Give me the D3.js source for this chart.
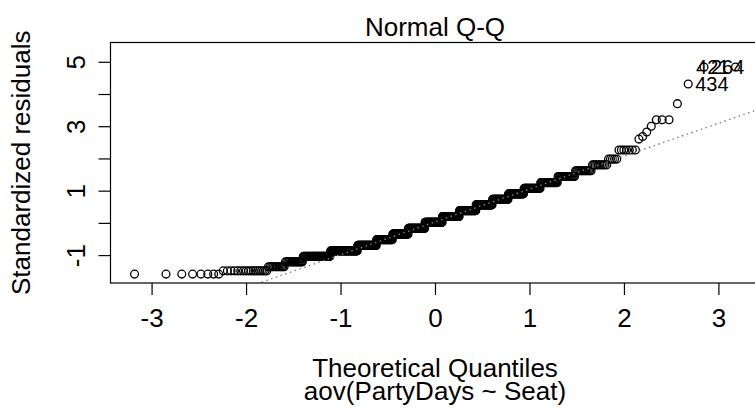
<!DOCTYPE html>
<html>
<head>
<meta charset="utf-8">
<script src="https://cdn.jsdelivr.net/npm/d3@7"></script>
<style>
  body { margin: 0; background: #fff; }
  svg { display: block; font-family: "Liberation Sans", Arial, sans-serif; }
</style>
</head>
<body>
<script>
//=DATA=//
// sorted standardized residuals, read off the plot as plateau levels + how many points sit on each
const resLevels = [-1.59, -1.49, -1.36, -1.21, -1.04, -0.87, -0.70, -0.52, -0.35, -0.17,
  0.02, 0.20, 0.38, 0.56, 0.73, 0.90, 1.07, 1.25, 1.44, 1.62,
  1.80, 1.98, 2.26, 2.60, 2.68, 2.82, 3.00, 3.20, 3.70, 4.31, 4.84];
const resCounts = [8, 18, 12, 17, 36, 49, 42, 40, 42, 47,
  50, 48, 45, 41, 36, 31, 28, 24, 19, 14,
  10, 5, 7, 1, 1, 1, 1, 3, 1, 1, 2];

// labelled points (rank from the top) and their ids
const idRanks = [1, 2, 3];
const idLabels = ["421", "264", "434"];

// reference line (through the quartiles)
const lineIntercept = 0.03;
const lineSlope = 1.02;

const xTicks = [-3, -2, -1, 0, 1, 2, 3];
const yTicks = [-1, 0, 1, 2, 3, 4, 5];
const yTickLabels = ["-1", "", "1", "", "3", "", "5"];

const title = "Normal Q-Q";
const xLabel = "Theoretical Quantiles";
const subLabel = "aov(PartyDays ~ Seat)";
const yLabel = "Standardized residuals";

//=SVG AREA=//
const width = 755;
const height = 411;
const fs = 26;

const svg = d3.select("body")
  .append("svg")
  .attr("width", width)
  .attr("height", height);

// inverse normal cdf (Acklam)
function qnorm(p) {
  const a = [-39.69683028665376, 220.9460984245205, -275.9285104469687, 138.3577518672690, -30.66479806614716, 2.506628277459239];
  const b = [-54.47609879822406, 161.5858589980324, -155.6989798598866, 66.80131188771972, -13.28068155288572];
  const c = [-0.007784894002430293, -0.3223964580411365, -2.400758277161838, -2.549732539343734, 4.374664141464968, 2.938163982698783];
  const d = [0.007784695709041462, 0.3224671290700398, 2.445134137142996, 3.754408661907416];
  const pl = 0.02425;
  let q, r;
  if (p < pl) {
    q = Math.sqrt(-2 * Math.log(p));
    return (((((c[0]*q+c[1])*q+c[2])*q+c[3])*q+c[4])*q+c[5]) / ((((d[0]*q+d[1])*q+d[2])*q+d[3])*q+1);
  } else if (p <= 1 - pl) {
    q = p - 0.5; r = q * q;
    return (((((a[0]*r+a[1])*r+a[2])*r+a[3])*r+a[4])*r+a[5])*q / (((((b[0]*r+b[1])*r+b[2])*r+b[3])*r+b[4])*r+1);
  }
  q = Math.sqrt(-2 * Math.log(1 - p));
  return -(((((c[0]*q+c[1])*q+c[2])*q+c[3])*q+c[4])*q+c[5]) / ((((d[0]*q+d[1])*q+d[2])*q+d[3])*q+1);
}

// expand levels into the sorted sample, pair with theoretical quantiles
const sample = [];
resLevels.forEach((v, i) => { for (let k = 0; k < resCounts[i]; k++) sample.push(v); });
const n = sample.length;
const points = sample.map((v, i) => ({ q: qnorm((i + 1 - 0.5) / n), r: v, rank: n - i }));

//==SCALES== (R style 4% padding, extra room on top for labels)
const xr = d3.extent(points, d => d.q);
let yr = d3.extent(points, d => d.r);
yr[1] = yr[1] + (yr[1] - yr[0]) * 0.075;
const xPad = (xr[1] - xr[0]) * 0.04;
const yPad = (yr[1] - yr[0]) * 0.04;

const x = d3.scaleLinear()
  .domain([xr[0] - xPad, xr[1] + xPad])
  .range([110.5, 759.5]);

const y = d3.scaleLinear()
  .domain([yr[0] - yPad, yr[1] + yPad])
  .range([283, 42.5]);

const [x0, x1] = x.range();
const [y0, y1] = y.range();

svg.append("clipPath")
  .attr("id", "plotclip")
  .append("rect")
  .attr("x", x0).attr("y", y1)
  .attr("width", x1 - x0).attr("height", y0 - y1);

//==POINTS==
svg.append("g")
  .selectAll("circle")
  .data(points)
  .enter()
  .append("circle")
  .attr("cx", d => x(d.q))
  .attr("cy", d => y(d.r))
  .attr("r", 3.9)
  .attr("fill", "none")
  .attr("stroke", "black")
  .attr("stroke-width", 1.3);

//==QQ LINE==
const xd = x.domain();
svg.append("line")
  .attr("clip-path", "url(#plotclip)")
  .attr("x1", x(xd[0]))
  .attr("y1", y(lineIntercept + lineSlope * xd[0]))
  .attr("x2", x(xd[1]))
  .attr("y2", y(lineIntercept + lineSlope * xd[1]))
  .attr("stroke", "#7f7f7f")
  .attr("stroke-width", 1.4)
  .attr("stroke-dasharray", "1.5,3.5");

//==ID LABELS== (largest goes to the left of its point, others to the right)
idRanks.forEach((rk, i) => {
  const p = points.find(d => d.rank === rk);
  const left = rk === 1;
  svg.append("text")
    .attr("x", x(p.q) + (left ? -6 : 7))
    .attr("y", y(p.r))
    .attr("dy", "0.36em")
    .attr("text-anchor", left ? "end" : "start")
    .attr("font-size", 20)
    .text(idLabels[i]);
});

//==BOX==
svg.append("rect")
  .attr("x", x0).attr("y", y1)
  .attr("width", x1 - x0).attr("height", y0 - y1)
  .attr("fill", "none")
  .attr("stroke", "black")
  .attr("stroke-width", 1.2);

//==AXES==
const xAxis = d3.axisBottom(x)
  .tickValues(xTicks)
  .tickSize(12)
  .tickPadding(14)
  .tickFormat(d => String(d));

const gx = svg.append("g")
  .attr("transform", `translate(0,${y0})`)
  .call(xAxis);
gx.select(".domain").remove();
gx.selectAll("line").attr("stroke-width", 1.2);
gx.selectAll("text").attr("font-size", fs).attr("fill", "black")
  .attr("font-family", "Liberation Sans, Arial, sans-serif");

const yAxis = d3.axisLeft(y)
  .tickValues(yTicks)
  .tickSize(12)
  .tickFormat((d, i) => yTickLabels[i]);

const gy = svg.append("g")
  .attr("transform", `translate(${x0},0)`)
  .call(yAxis);
gy.select(".domain").remove();
gy.selectAll("line").attr("stroke-width", 1.2);
gy.selectAll("text")
  .attr("font-size", fs)
  .attr("fill", "black")
  .attr("font-family", "Liberation Sans, Arial, sans-serif")
  .attr("text-anchor", "middle")
  .attr("x", null).attr("dy", null)
  .attr("transform", "translate(-26,0) rotate(-90)");

//==TITLES==
svg.append("text")
  .attr("x", 435)
  .attr("y", 36)
  .attr("text-anchor", "middle")
  .attr("font-size", fs)
  .text(title);

svg.append("text")
  .attr("x", x(0))
  .attr("y", 377)
  .attr("text-anchor", "middle")
  .attr("font-size", fs)
  .text(xLabel);

svg.append("text")
  .attr("x", x(0))
  .attr("y", 400)
  .attr("text-anchor", "middle")
  .attr("font-size", fs)
  .text(subLabel);

svg.append("text")
  .attr("transform", `translate(30,${(y0 + y1) / 2}) rotate(-90)`)
  .attr("text-anchor", "middle")
  .attr("font-size", fs)
  .text(yLabel);
</script>
</body>
</html>
